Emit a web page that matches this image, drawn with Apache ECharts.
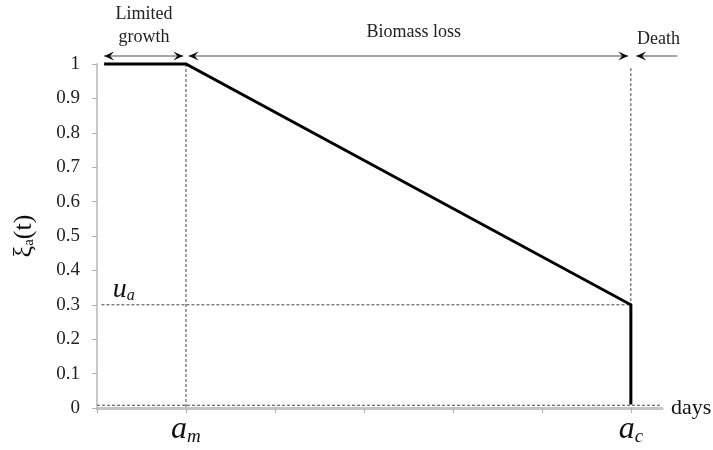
<!DOCTYPE html>
<html><head><meta charset="utf-8">
<script src="https://cdn.jsdelivr.net/npm/echarts@6/dist/echarts.min.js"></script>
<style>html,body{margin:0;padding:0;background:#fff}#c{width:713px;height:450px}</style>
</head><body><div id="c"></div>
<script>
// Data
var curve = [[0.08, 1], [1, 1], [6, 0.3], [6, 0.01]];
var yTicks = [0, 0.1, 0.2, 0.3, 0.4, 0.5, 0.6, 0.7, 0.8, 0.9, 1];
var xTicks = [0, 1, 2, 3, 4, 5, 6];
var amX = 1, acX = 6, uaY = 0.3;
var vLineAm = [[1, 1], [1, 0]];
var vLineAc = [[6, 0.988], [6, 0.3]];
var hLineUa = [[0.05, 0.3], [6, 0.3]];
var hLineZero = [[0, 0.008], [6.35, 0.008]];
// arrows: [x1, x2, y, heads(0 both, 1 left only)]
var arrows = [[0.08, 0.97, 1.023, 0], [1.03, 5.97, 1.023, 0], [6.06, 6.52, 1.023, 1]];
// texts: [x, y, index]
var textNames = ['Limited', 'growth', 'Biomass loss', 'Death', '{u|u}{s|a}'];
var textPos = [[0.528, 1.145, 0], [0.528, 1.078, 1], [3.56, 1.093, 2], [6.31, 1.073, 3], [0.3, 0.345, 4]];

var serif = '"Liberation Serif", "DejaVu Serif", serif';
var chart = echarts.init(document.getElementById('c'));
function dashSeries(data) {
  return { type: 'line', data: data, symbol: 'none', clip: false, silent: true,
    lineStyle: { color: '#444', width: 1, type: [3, 2] }, z: 2 };
}
chart.setOption({
  animation: false,
  grid: { left: 97, right: 51, top: 64, bottom: 42, containLabel: false, outerBoundsMode: 'none' },
  xAxis: {
    type: 'value', min: 0, max: 6.35, interval: 1,
    splitLine: { show: false },
    axisLine: { show: true, lineStyle: { color: '#c4c4c4', width: 3 } },
    axisTick: { show: true, length: 5, customValues: xTicks, lineStyle: { color: '#b0b0b0', width: 1 } },
    axisLabel: {
      customValues: [amX, acX], margin: 6,
      formatter: function (v) { return v === amX ? '{a|a}{s|m}' : (v === acX ? '{a|a}{s|c}' : ''); },
      rich: {
        a: { fontFamily: serif, fontStyle: 'italic', fontSize: 32, color: '#111', lineHeight: 32 },
        s: { fontFamily: serif, fontStyle: 'italic', fontSize: 19, color: '#111', verticalAlign: 'bottom', padding: [12, 0, 0, 0] }
      }
    },
    name: 'days', nameLocation: 'end', nameGap: 9,
    nameTextStyle: { fontFamily: serif, fontSize: 22, color: '#111', verticalAlign: 'middle' }
  },
  yAxis: {
    type: 'value', min: 0, max: 1, interval: 0.1,
    splitLine: { show: false },
    axisLine: { show: true, lineStyle: { color: '#c8c8c8', width: 2 } },
    axisTick: { show: true, length: 5, lineStyle: { color: '#b0b0b0', width: 1 } },
    axisLabel: {
      margin: 17, fontFamily: serif, fontSize: 19, color: '#222',
      formatter: function (v) { return String(Math.round(v * 10) / 10); }
    },
    name: '{x|ξ}{s|a}{x|(t)}', nameLocation: 'middle', nameGap: 60, nameRotate: 90,
    nameTextStyle: {
      rich: {
        x: { fontFamily: serif, fontSize: 26, color: '#111' },
        s: { fontFamily: serif, fontSize: 15, color: '#111', verticalAlign: 'bottom', padding: [10, 0, 0, 0] }
      }
    }
  },
  series: [
    dashSeries(vLineAm), dashSeries(vLineAc), dashSeries(hLineUa), dashSeries(hLineZero),
    { type: 'line', data: curve, symbol: 'none', clip: false, silent: true,
      lineStyle: { color: '#000', width: 3, join: 'miter' }, z: 5 },
    { type: 'custom', clip: false, silent: true, z: 6,
      data: arrows,
      renderItem: function (params, api) {
        var p1 = api.coord([api.value(0), api.value(2)]);
        var p2 = api.coord([api.value(1), api.value(2)]);
        var y = p1[1];
        var ch = [{ type: 'line', shape: { x1: p1[0], y1: y, x2: p2[0], y2: y },
          style: { stroke: '#8a8a8a', lineWidth: 1.5 } }];
        ch.push({ type: 'polygon', shape: { points: [[p1[0], y], [p1[0] + 10, y - 4.5], [p1[0] + 6, y], [p1[0] + 10, y + 4.5]] },
          style: { fill: '#111' } });
        if (api.value(3) === 0) {
          ch.push({ type: 'polygon', shape: { points: [[p2[0], y], [p2[0] - 10, y - 4.5], [p2[0] - 6, y], [p2[0] - 10, y + 4.5]] },
            style: { fill: '#111' } });
        }
        return { type: 'group', children: ch };
      }
    },
    { type: 'custom', clip: false, silent: true, z: 7,
      data: textPos,
      renderItem: function (params, api) {
        var p = api.coord([api.value(0), api.value(1)]);
        var idx = api.value(2);
        return { type: 'text', x: p[0], y: p[1],
          style: { text: textNames[idx], align: 'center', verticalAlign: 'middle',
            fontFamily: serif, fontSize: 18, fill: '#222',
            rich: {
              u: { fontFamily: serif, fontStyle: 'italic', fontSize: 28, fill: '#111' },
              s: { fontFamily: serif, fontStyle: 'italic', fontSize: 16, fill: '#111', verticalAlign: 'bottom', padding: [10, 0, 0, 0] }
            } } };
      }
    }
  ]
});
</script></body></html>
